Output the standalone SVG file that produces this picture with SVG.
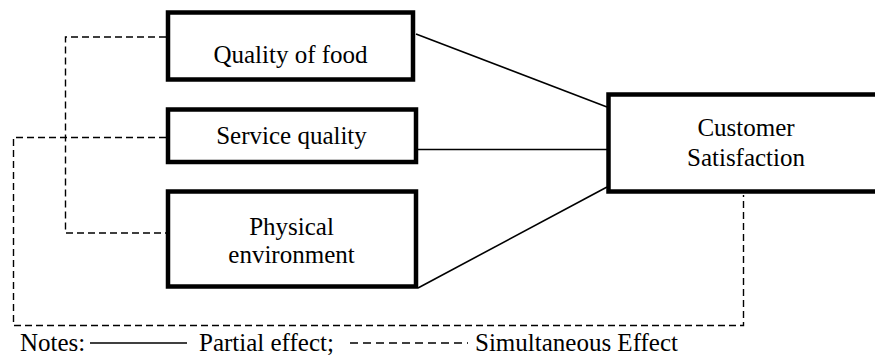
<svg xmlns="http://www.w3.org/2000/svg" width="875" height="355" viewBox="0 0 875 355">
<style>
.box{fill:#fff;stroke:#000;stroke-width:4.5}
.t{font-family:"Liberation Serif","Times New Roman",serif;font-size:25px;fill:#000}
.solid{stroke:#000;stroke-width:1.6;fill:none}
.dash{stroke:#000;stroke-width:1.4;fill:none;stroke-dasharray:7,4}
</style>
<rect width="875" height="355" fill="#fff"/>
<g id="connectors">
<polyline class="dash" points="166,37 65.5,37 65.5,233 166,233"/>
<polyline class="dash" points="166,137.5 13.5,137.5 13.5,325.5 743.5,325.5 743.5,195"/>
<line class="solid" x1="416" y1="34" x2="607" y2="107"/>
<line class="solid" x1="418" y1="149.5" x2="607" y2="149.5"/>
<line class="solid" x1="418" y1="288" x2="607" y2="187"/>
</g>
<g id="quality-of-food">
<rect class="box" x="168" y="12.5" width="245" height="67"/>
<text class="t" x="290.5" y="63" text-anchor="middle">Quality of food</text>
</g>
<g id="service-quality">
<rect class="box" x="168" y="109.5" width="248" height="52.5"/>
<text class="t" x="291.5" y="144" text-anchor="middle">Service quality</text>
</g>
<g id="physical-environment">
<rect class="box" x="168" y="191.5" width="248" height="95"/>
<text class="t" x="291.5" y="235" text-anchor="middle">Physical</text>
<text class="t" x="291.5" y="263" text-anchor="middle">environment</text>
</g>
<g id="customer-satisfaction">
<rect class="box" x="608.5" y="94.5" width="280" height="97"/>
<text class="t" x="746" y="136" text-anchor="middle">Customer</text>
<text class="t" x="746" y="166" text-anchor="middle">Satisfaction</text>
</g>
<g id="legend">
<text class="t" x="20" y="351">Notes:</text>
<line class="solid" x1="90" y1="343" x2="187" y2="343"/>
<text class="t" x="199" y="351">Partial effect;</text>
<line x1="350" y1="343" x2="468" y2="343" stroke="#000" stroke-width="1.4" stroke-dasharray="8,5"/>
<text class="t" x="475" y="351">Simultaneous Effect</text>
</g>
</svg>
